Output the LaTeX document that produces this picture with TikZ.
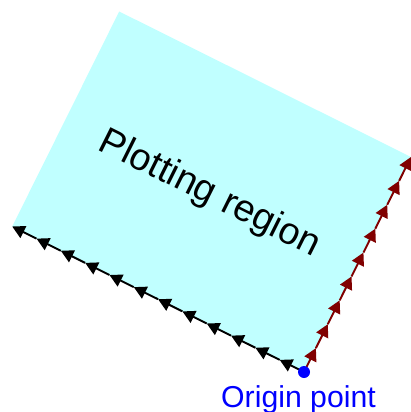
\documentclass[tikz,border=0pt]{standalone}
\usepackage{fontspec}
\setmainfont{Liberation Sans}
\usetikzlibrary{arrows.meta, calc}
\definecolor{regionfill}{RGB}{192,255,255}
\definecolor{axisred}{RGB}{128,0,0}
\tikzset{%
>={Triangle[width=2.6mm,length=2.5mm]},
  % Specifications for style of axes and points:
            axisline/.style = {->, line width=1.1pt},
            region/.style = {fill=regionfill, draw=none},
            dot/.style = {circle, fill=blue, inner sep=0pt, minimum size=2.4mm}
}

\begin{document}
\begin{tikzpicture}[x=0.02cm, y=-0.02cm]
                \useasboundingbox (0,0) rectangle (410,412);

                \coordinate (o) at (304,372);
                \coordinate (l) at (12.2,226.5);
                \coordinate (r) at (411,157);
                \coordinate (t) at ($(l)+(r)-(o)$);
                \fill[region] (o) -- (l) -- (t) -- (r) -- cycle;

                \node[rotate=-26.5, anchor=base,
                font=\fontsize{21.5}{25}\selectfont] (title) at (205,203) {Plotting region};

                \foreach \i [evaluate=\i as \j using \i-1] in {1,...,12}
                \draw[axisline] ($(o)!\j/12!(l)$) -- ($(o)!\i/12!(l)$);
                \foreach \i [evaluate=\i as \j using \i-1] in {1,...,9}
                \draw[axisline, axisred] ($(o)!\j/9!(r)$) -- ($(o)!\i/9!(r)$);

                \node[dot] (origin) at (o) {};
                \node[anchor=base, text=blue,
                font=\fontsize{17.2}{20}\selectfont] (originlabel) at (298.5,407) {Origin point};

            \end{tikzpicture}
\end{document}
